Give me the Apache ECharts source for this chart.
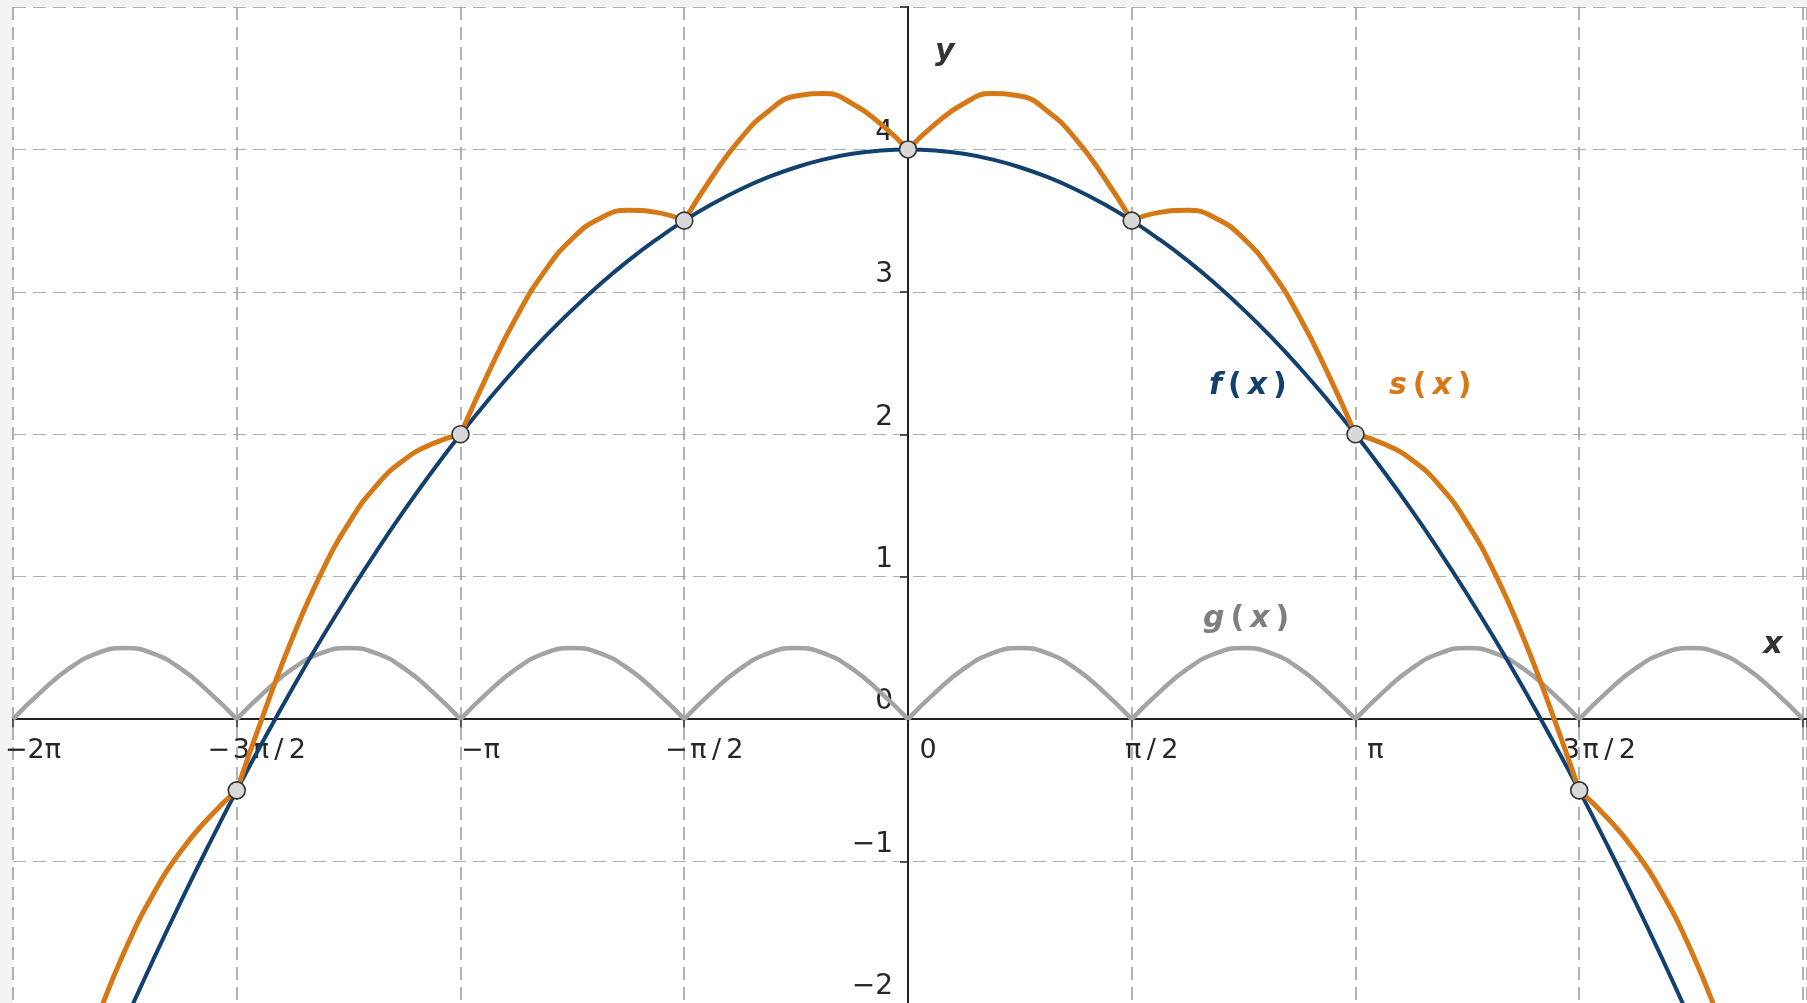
<!DOCTYPE html>
<html>
<head>
<meta charset="utf-8">
<title>f(x), g(x), s(x)</title>
<script src="https://cdn.jsdelivr.net/npm/echarts@6/dist/echarts.min.js"></script>
<style>
  html, body { margin: 0; padding: 0; background: #f2f4f4; }
  #main { width: 1807px; height: 1003px; }
</style>
</head>
<body>
<div id="main"></div>
<script>
    // x 以 π/2 为单位: -4 = -2π, 4 = 2π
    var xs = [-4, -3.875, -3.75, -3.625, -3.5, -3.375, -3.25, -3.125,
              -3, -2.875, -2.75, -2.625, -2.5, -2.375, -2.25, -2.125,
              -2, -1.875, -1.75, -1.625, -1.5, -1.375, -1.25, -1.125,
              -1, -0.875, -0.75, -0.625, -0.5, -0.375, -0.25, -0.125,
              0, 0.125, 0.25, 0.375, 0.5, 0.625, 0.75, 0.875,
              1, 1.125, 1.25, 1.375, 1.5, 1.625, 1.75, 1.875,
              2, 2.125, 2.25, 2.375, 2.5, 2.625, 2.75, 2.875,
              3, 3.125, 3.25, 3.375, 3.5, 3.625, 3.75, 3.875, 4];

    var fVals = [-4, -3.508, -3.031, -2.570, -2.125, -1.695, -1.281, -0.883,
                 -0.5, -0.133, 0.219, 0.555, 0.875, 1.180, 1.469, 1.742,
                 2, 2.242, 2.469, 2.680, 2.875, 3.055, 3.219, 3.367,
                 3.5, 3.617, 3.719, 3.805, 3.875, 3.930, 3.969, 3.992,
                 4, 3.992, 3.969, 3.930, 3.875, 3.805, 3.719, 3.617,
                 3.5, 3.367, 3.219, 3.055, 2.875, 2.680, 2.469, 2.242,
                 2, 1.742, 1.469, 1.180, 0.875, 0.555, 0.219, -0.133,
                 -0.5, -0.883, -1.281, -1.695, -2.125, -2.570, -3.031, -3.508, -4];

    var gVals = [0, 0.191, 0.354, 0.462, 0.5, 0.462, 0.354, 0.191,
                 0, 0.191, 0.354, 0.462, 0.5, 0.462, 0.354, 0.191,
                 0, 0.191, 0.354, 0.462, 0.5, 0.462, 0.354, 0.191,
                 0, 0.191, 0.354, 0.462, 0.5, 0.462, 0.354, 0.191,
                 0, 0.191, 0.354, 0.462, 0.5, 0.462, 0.354, 0.191,
                 0, 0.191, 0.354, 0.462, 0.5, 0.462, 0.354, 0.191,
                 0, 0.191, 0.354, 0.462, 0.5, 0.462, 0.354, 0.191,
                 0, 0.191, 0.354, 0.462, 0.5, 0.462, 0.354, 0.191, 0];

    var sVals = [-4, -3.317, -2.677, -2.108, -1.625, -1.233, -0.927, -0.692,
                 -0.5, 0.058, 0.573, 1.017, 1.375, 1.642, 1.823, 1.933,
                 2, 2.433, 2.823, 3.142, 3.375, 3.517, 3.573, 3.558,
                 3.5, 3.808, 4.073, 4.267, 4.375, 4.392, 4.323, 4.183,
                 4, 4.183, 4.323, 4.392, 4.375, 4.267, 4.073, 3.808,
                 3.5, 3.558, 3.573, 3.517, 3.375, 3.142, 2.823, 2.433,
                 2, 1.933, 1.823, 1.642, 1.375, 1.017, 0.573, 0.058,
                 -0.5, -0.692, -0.927, -1.233, -1.625, -2.108, -2.677, -3.317, -4];

    // f 上的交点
    var ptX = [-3, -2, -1, 0, 1, 2, 3];
    var ptY = [-0.5, 2, 3.5, 4, 3.5, 2, -0.5];

    // 刻度文字: x 从 -2π 到 2π, y 从 -2 到 4
    var xTickLabels = ['\u22122\u03c0', '\u2212\u200a3\u200a\u03c0\u2009/\u20092', '\u2212\u03c0',
                       '\u2212\u200a\u03c0\u2009/\u20092', '0', '\u03c0\u2009/\u20092', '\u03c0',
                       '3\u200a\u03c0\u2009/\u20092', '2\u03c0'];
    var yTickLabels = ['\u22122', '\u22121', '0', '1', '2', '3', '4'];

    var FONT = 'DejaVu Sans';
    var BLUE = '#12406f';
    var ORANGE = '#d67816';
    var GRAY = '#a3a3a3';

    function pairs(a, b) {
        var out = [];
        for (var i = 0; i < a.length; i++) out.push([a[i], b[i]]);
        return out;
    }

    // 在尖点(整数处)断开，每段单独平滑
    function pieces(a, b) {
        var out = [];
        for (var i = 0; i < a.length; i++) {
            out.push([a[i], b[i]]);
            if (i > 0 && i < a.length - 1 && Math.round(a[i]) === a[i]) {
                out.push([a[i], '-']);
                out.push([a[i], b[i]]);
            }
        }
        return out;
    }

    var xTickData = xTickLabels.map(function (s, i) { return {value: [i - 4, 0], name: s}; });
    var yTickData = yTickLabels.map(function (s, i) { return {value: [0, i - 2], name: s}; });

    var myChart = echarts.init(document.getElementById('main'));

    var option = {
        backgroundColor: '#f2f4f4',
        animation: false,
        grid: {
            left: 13, right: 0, top: 7, bottom: -1,
            show: true, backgroundColor: '#ffffff', borderWidth: 0,
            containLabel: false,
            outerBoundsMode: 'none'
        },
        xAxis: {
            type: 'value',
            min: -4, max: 4.018, interval: 1,
            axisLine: {onZero: true, lineStyle: {color: '#222', width: 2}},
            axisTick: {show: true, length: 8, lineStyle: {color: '#222', width: 1.5}},
            axisLabel: {show: false},
            splitLine: {show: true, lineStyle: {color: '#a0a0a0', width: 1.6, type: [13, 7]}}
        },
        yAxis: {
            type: 'value',
            min: -2, max: 5, interval: 1,
            axisLine: {onZero: true, lineStyle: {color: '#222', width: 2}},
            axisTick: {show: true, length: 8, lineStyle: {color: '#222', width: 1.5}},
            axisLabel: {show: false},
            splitLine: {show: true, lineStyle: {color: '#b0b0b0', width: 1.2, type: [13, 7]}}
        },
        series: [
            {
                name: 'xTicks', type: 'scatter', data: xTickData, symbolSize: 0, z: 1, silent: true,
                itemStyle: {opacity: 1},
                label: {
                    show: true, position: 'inside', offset: [20, 32], formatter: '{b}',
                    fontFamily: FONT, fontSize: 27, color: '#262626', textBorderWidth: 0
                }
            },
            {
                name: 'yTicks', type: 'scatter', data: yTickData, symbolSize: 0, z: 1, silent: true,
                itemStyle: {opacity: 1},
                label: {
                    show: true, position: 'left', distance: 15, offset: [0, -17], formatter: '{b}',
                    fontFamily: FONT, fontSize: 28, color: '#262626', textBorderWidth: 0
                }
            },
            {
                name: 'g', type: 'line', data: pieces(xs, gVals),
                smooth: true, showSymbol: false, connectNulls: false,
                lineStyle: {color: GRAY, width: 4.5}, z: 3, silent: true
            },
            {
                name: 'f', type: 'line', data: pairs(xs, fVals),
                smooth: true, showSymbol: false,
                lineStyle: {color: BLUE, width: 4}, z: 4, silent: true
            },
            {
                name: 's', type: 'line', data: pieces(xs, sVals),
                smooth: true, showSymbol: false, connectNulls: false,
                lineStyle: {color: ORANGE, width: 5}, z: 5, silent: true
            },
            {
                name: 'points', type: 'scatter', data: pairs(ptX, ptY),
                symbol: 'circle', symbolSize: 17,
                itemStyle: {color: '#d8d8d8', borderColor: '#333', borderWidth: 1.6, opacity: 1},
                z: 6, silent: true
            },
            {
                // 曲线名称与坐标轴名称
                name: 'labels', type: 'scatter', symbolSize: 0, z: 7, silent: true,
                itemStyle: {opacity: 1},
                label: {
                    show: true, position: 'inside', textBorderWidth: 0,
                    fontFamily: FONT, fontSize: 30, fontWeight: 'bold',
                    rich: {
                        i: {fontFamily: FONT, fontSize: 30, fontWeight: 'bold', fontStyle: 'italic', textBorderWidth: 0},
                        u: {fontFamily: FONT, fontSize: 30, fontWeight: 'bold', textBorderWidth: 0}
                    }
                },
                data: [
                    {value: [1.519, 2.335], label: {color: BLUE, formatter: '{i|f}{u|\u2009(\u2009}{i|x}{u|\u2009)}'}},
                    {value: [2.334, 2.335], label: {color: ORANGE, formatter: '{i|s}{u|\u2009(\u2009}{i|x}{u|\u2009)}'}},
                    {value: [1.511, 0.699], label: {color: '#7f7f7f', formatter: '{i|g}{u|\u2009(\u2009}{i|x}{u|\u2009)}'}},
                    {value: [3.866, 0.517], label: {color: '#333', formatter: '{i|x}'}},
                    {value: [0.164, 4.686], label: {color: '#333', formatter: '{i|y}'}}
                ]
            }
        ]
    };

    myChart.setOption(option);
</script>
</body>
</html>
